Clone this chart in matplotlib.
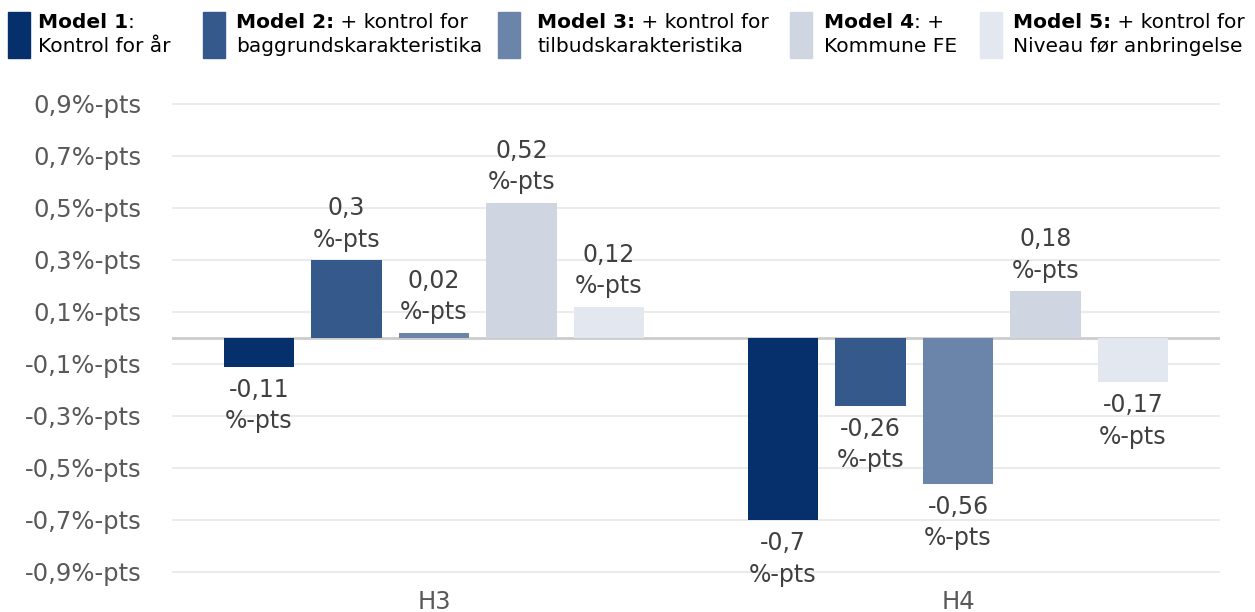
import matplotlib
matplotlib.use("Agg")
import matplotlib.pyplot as plt
from matplotlib.patches import Rectangle
import numpy as np

categories = ["H3", "H4"]
models_bold = ["Model 1", "Model 2:", "Model 3:", "Model 4", "Model 5:"]
models_rest1 = [":", " + kontrol for", " + kontrol for", ": +", " + kontrol for"]
models_line2 = ["Kontrol for år", "baggrundskarakteristika", "tilbudskarakteristika",
                "Kommune FE", "Niveau før anbringelse"]
model1 = [-0.11, -0.70]
model2 = [0.30, -0.26]
model3 = [0.02, -0.56]
model4 = [0.52, 0.18]
model5 = [0.12, -0.17]
series = [model1, model2, model3, model4, model5]
colors = ["#05306b", "#35598a", "#6a84aa", "#cfd6e2", "#e3e8f0"]
yticks = [-0.9, -0.7, -0.5, -0.3, -0.1, 0.1, 0.3, 0.5, 0.7, 0.9]

plt.rcParams['font.family'] = ['DejaVu Sans']
fig = plt.figure(figsize=(12.55, 6.12), dpi=100)
ax = fig.add_axes([172/1255, 1-590/612, (1220-172)/1255, (590-90)/612])

x = np.arange(len(categories))
step = 0.167
width = 0.134
for i, (vals, c) in enumerate(zip(series, colors)):
    pos = x + (i - 2) * step
    ax.bar(pos, vals, width=width, color=c, zorder=3)
    for p, v in zip(pos, vals):
        s = f"{v:g}".replace(".", ",")
        txt = f"{s}\n%-pts"
        if v >= 0:
            ax.annotate(txt, (p, v), xytext=(0, 6), textcoords="offset points",
                        ha="center", va="bottom", fontsize=17, color="#404040",
                        linespacing=1.4)
        else:
            ax.annotate(txt, (p, v), xytext=(0, -8), textcoords="offset points",
                        ha="center", va="top", fontsize=17, color="#404040",
                        linespacing=1.4)

ax.set_xlim(-0.5, 1.5)
ax.set_ylim(-(590-338)/260, (338-90)/260)
ax.set_yticks(yticks)
ax.set_yticklabels([f"{t:.1f}".replace(".", ",") + "%-pts" for t in yticks])
ax.set_xticks(x)
ax.set_xticklabels(categories)
ax.tick_params(axis="both", length=0, labelsize=17.5, labelcolor="#595959")
ax.tick_params(axis="y", pad=22)
ax.tick_params(axis="x", pad=0)
for sp in ax.spines.values():
    sp.set_visible(False)
ax.grid(axis="y", color="#ebebeb", linewidth=1.5, zorder=0)
ax.axhline(0, color="#cccccc", linewidth=2, zorder=2)

# legend
sw_x = [8, 203, 498, 790, 980]
tx_x = [38, 236, 537, 824, 1013]
W, H = 1255, 612
for i in range(5):
    fig.patches.append(Rectangle((sw_x[i]/W, 1-58/H), 22/W, 46/H,
                                 transform=fig.transFigure, color=colors[i]))
    t1 = fig.text(tx_x[i]/W, 1-22/H, models_bold[i], fontsize=14.5, fontweight="bold",
                  va="center", ha="left", color="#000000")
    fig.text(tx_x[i]/W, 1-47/H, models_line2[i], fontsize=14.5, va="center",
             ha="left", color="#000000")
    ax.annotate(models_rest1[i], xy=(1, 0.5), xycoords=t1, va="center", ha="left",
                fontsize=14.5, color="#000000", annotation_clip=False)

fig.savefig("out.png", dpi=100)
